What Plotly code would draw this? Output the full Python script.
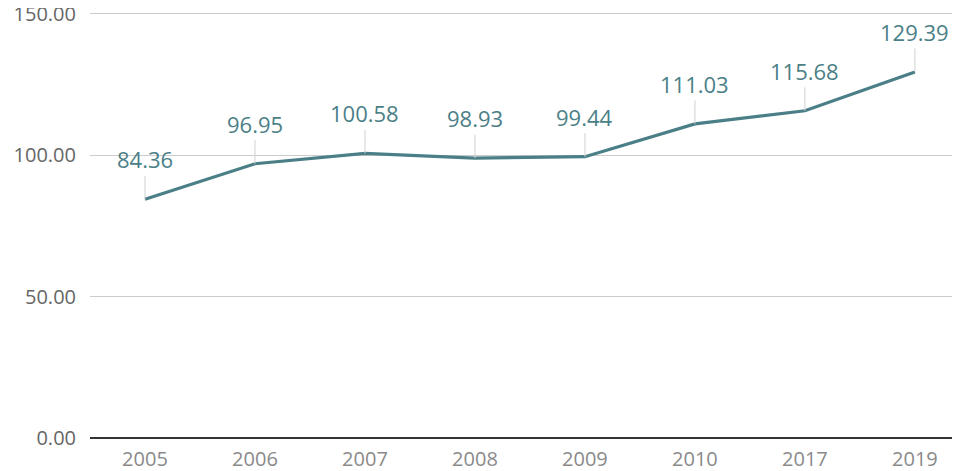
import plotly.graph_objects as go

years = ["2005", "2006", "2007", "2008", "2009", "2010", "2017", "2019"]
values = [84.36, 96.95, 100.58, 98.93, 99.44, 111.03, 115.68, 129.39]
y_ticks = [0, 50, 100, 150]
y_tick_labels = ["0.00", "50.00", "100.00", "150.00"]

teal = "#4b7f87"

fig = go.Figure()
fig.add_trace(go.Scatter(
    x=list(range(len(years))), y=values, mode="lines",
    line=dict(color=teal, width=3.2),
    hoverinfo="skip", showlegend=False,
))

for i, v in enumerate(values):
    fig.add_annotation(
        x=i, y=v, xref="x", yref="y", text=f"{v:.2f}",
        showarrow=True, arrowhead=0, arrowwidth=1, arrowcolor="#d0d0d0",
        ax=0, ay=-40, standoff=0,
        font=dict(family="Open Sans", size=22, color=teal),
    )

fig.update_layout(
    width=952, height=463,
    margin=dict(l=82, r=0, t=0, b=33),
    paper_bgcolor="white", plot_bgcolor="white",
    font=dict(family="Open Sans"),
    xaxis=dict(
        range=[-0.5, 7.41], tickvals=list(range(len(years))), ticktext=years,
        showgrid=False, zeroline=False, showline=False, automargin=False,
        ticks="", ticklabelstandoff=7, tickfont=dict(size=20, color="#8a8a8a"),
    ),
    yaxis=dict(
        range=[0, 152.0], tickvals=y_ticks, ticktext=y_tick_labels,
        showgrid=True, gridcolor="#cccccc", gridwidth=1.2,
        zeroline=True, zerolinecolor="#333333", zerolinewidth=1.8,
        showline=False, ticks="", ticklabelstandoff=13, automargin=False,
        ticklabeloverflow="allow",
        tickfont=dict(size=20, color="#666666"),
    ),
)

fig.write_html("out.html")
